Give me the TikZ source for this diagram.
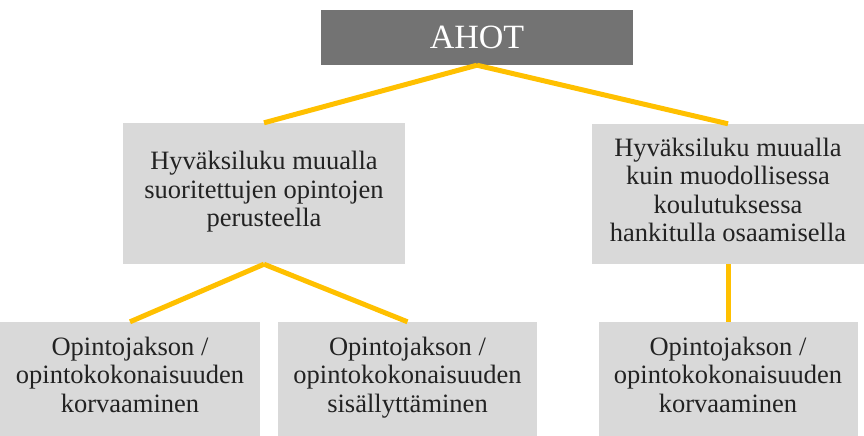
\documentclass[tikz,border=0pt]{standalone}
\usepackage{fontspec}
\setmainfont{Liberation Serif}
\definecolor{ahotgray}{HTML}{737373}
\definecolor{boxgray}{HTML}{D9D9D9}
\definecolor{gold}{HTML}{FFC000}
\definecolor{txt}{HTML}{222222}
\begin{document}
\begin{tikzpicture}[x=1pt,y=-1pt,
  box/.style={fill=boxgray, draw=none, align=center, inner sep=0pt, text=txt,
    font=\fontsize{26.5}{28.5}\selectfont,
    execute at begin node=\strut, execute at end node=\strut},
  link/.style={draw=gold, line width=5pt}]
\useasboundingbox (0,0) rectangle (864,436);
\node[fill=ahotgray, text=white, minimum width=312pt, minimum height=55pt, inner sep=0pt,
  font=\fontsize{34}{40}\selectfont] (ahot) at (477,37.5) {AHOT};
\node[box, minimum width=282pt, minimum height=141pt] (midL) at (264,193.5)
  {Hyväksiluku muualla\\suoritettujen opintojen\\perusteella};
\node[box, minimum width=272pt, minimum height=140pt] (midR) at (728,194)
  {Hyväksiluku muualla\\kuin muodollisessa\\koulutuksessa\\hankitulla osaamisella};
\node[box, minimum width=260pt, minimum height=114pt] (botL) at (130,379)
  {Opintojakson /\\opintokokonaisuuden\\korvaaminen};
\node[box, minimum width=259pt, minimum height=114pt] (botM) at (407.5,379)
  {Opintojakson /\\opintokokonaisuuden\\sisällyttäminen};
\node[box, minimum width=259pt, minimum height=114pt] (botR) at (728,379)
  {Opintojakson /\\opintokokonaisuuden\\korvaaminen};
\draw[link] (ahot.south) -- (midL.north);
\draw[link] (ahot.south) -- (midR.north);
\draw[link] (midL.south) -- (botL.north);
\draw[link] (midL.south) -- (botM.north);
\draw[link] (midR.south) -- (botR.north);
\end{tikzpicture}
\end{document}
